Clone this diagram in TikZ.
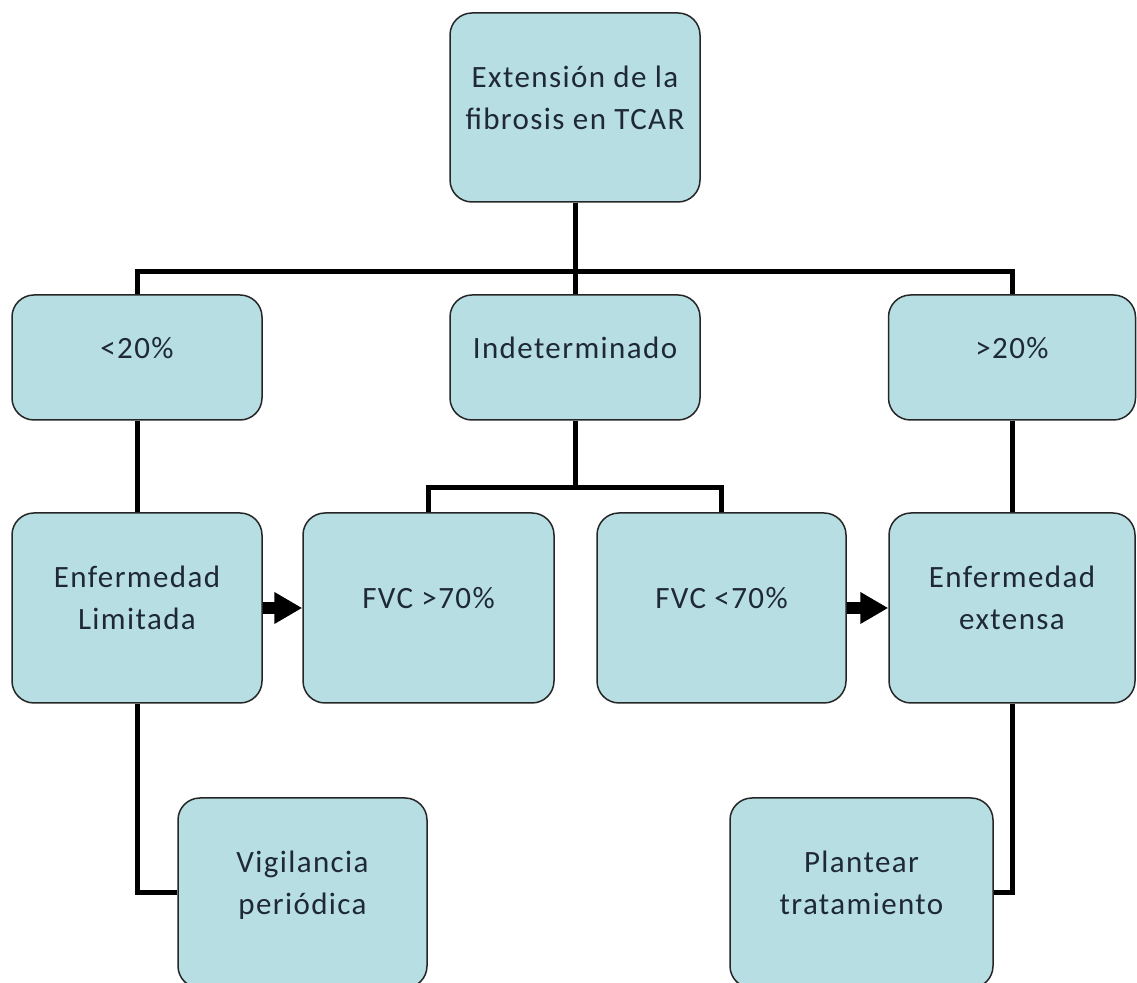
\documentclass[tikz,border=0pt]{standalone}
\usepackage{fontspec}
\setmainfont[LetterSpace=4.5]{Carlito}
\usepackage{xcolor}
\usepackage{tikz}
\usetikzlibrary{arrows.meta}
\definecolor{fondocaja}{RGB}{183,222,227}
\definecolor{textocaja}{RGB}{30,40,55}
\tikzstyle{caja} = [draw=black!85, fill=fondocaja, line width=0.75pt,
rectangle, rounded corners=11pt, text=textocaja, align=center,
minimum width=125pt, font=\fontsize{15.5}{21}\selectfont, text depth=10pt]
\tikzstyle{conector} = [draw=black, line width=2.5pt]
\tikzstyle{flecha} = [draw=black, line width=6pt, -{Triangle[length=14pt, width=15pt]}]

\begin{document}
\begin{tikzpicture}[x=0.5pt, y=-0.5pt]
        \useasboundingbox (0,0) rectangle (1137,983);
        \clip (0,0) rectangle (1137,983);
        \node [caja, minimum height=94.5pt] (raiz) at (575,107.5) {Extensión de la\\fibrosis en TCAR};
        \node [caja, minimum height=62.5pt] (menor) at (137,357.5) {<20\%};
        \node [caja, minimum height=62.5pt] (indet) at (575,357.5) {Indeterminado};
        \node [caja, minimum height=62.5pt, minimum width=123.5pt] (mayor) at (1012,357.5) {>20\%};
        \node [caja, minimum height=95pt] (elim) at (137,608) {Enfermedad\\Limitada};
        \node [caja, minimum height=95pt, minimum width=125.5pt] (fvcA) at (428.5,608) {FVC >70\%};
        \node [caja, minimum height=95pt, minimum width=124.5pt] (fvcB) at (721.5,608) {FVC <70\%};
        \node [caja, minimum height=95pt, minimum width=123pt] (eext) at (1012,608) {Enfermedad\\extensa};
        \node [caja, minimum height=95pt, minimum width=124.5pt] (vig) at (302.5,893) {Vigilancia\\periódica};
        \node [caja, minimum height=95pt, minimum width=131.5pt] (plan) at (861.5,893) {Plantear\\tratamiento};
        \coordinate (bus1) at (575,272);
        \coordinate (bus2) at (575,488);
        \draw [conector] (raiz.south) -- (indet.north);
        \draw [conector] (menor.north) -- (menor.north |- bus1) -- (mayor.north |- bus1) -- (mayor.north);
        \draw [conector] (indet.south) -- (bus2);
        \draw [conector] (fvcA.north) -- (fvcA.north |- bus2) -- (fvcB.north |- bus2) -- (fvcB.north);
        \draw [conector] (menor.south) -- (elim.north);
        \draw [conector] (mayor.south) -- (eext.north);
        \draw [conector] (elim.south) |- (vig.west);
        \draw [conector] (eext.south) |- (plan.east);
        \draw [flecha] (elim.east) -- (fvcA.west);
        \draw [flecha] (fvcB.east) -- (eext.west);
    \end{tikzpicture}
\end{document}
